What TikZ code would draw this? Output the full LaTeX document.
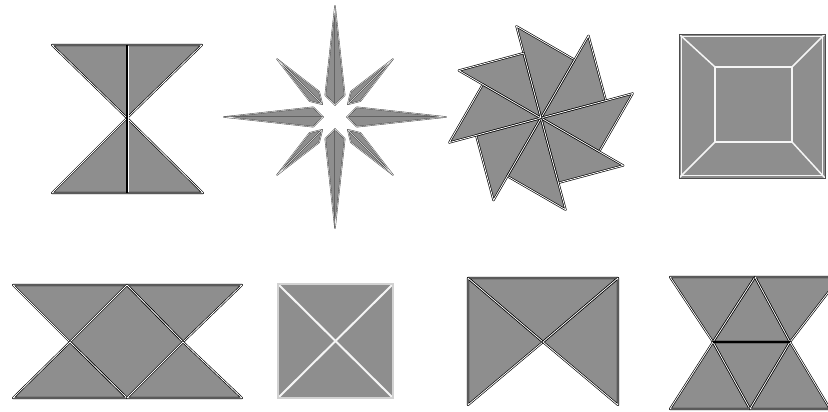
\documentclass[tikz,border=0pt]{standalone}
\usepackage{tikz}
\definecolor{tilegray}{RGB}{142,142,142}

\begin{document}
\begin{tikzpicture}[x=1pt, y=-1pt,
	tile/.style={fill=tilegray},
	edge/.style={draw=black, line width=0.65pt, double=white, double distance=0.8pt, line join=round},
	thinedge/.style={draw=black!75, line width=0.4pt, double=white!85!gray, double distance=0.5pt, line join=round},
	seam/.style={draw=white!92!gray, line width=1.5pt}]
	\useasboundingbox (0,0) rectangle (828,412);
	\fill[white] (0,0) rectangle (828,412);
	\fill[tile] (52,45) -- (202,45) -- (127,118) -- cycle;
	\fill[tile] (52,193) -- (203,193) -- (127,118) -- cycle;
	\draw[edge] (52,45) -- (202,45) -- (127,118) -- cycle;
	\draw[edge] (52,193) -- (203,193) -- (127,118) -- cycle;
	\draw[white, line width=0.8pt] (128.5,46) -- (128.5,192);
	\draw[black, line width=1.3pt] (127,45) -- (127,193);
	\begin{scope}[shift={(335,117)}]
		\foreach \a in {0,90,180,270} {
			\fill[tile] (\a:111) -- (\a+24:24) -- (\a:12) -- (\a-24:24) -- cycle;
			\draw[thinedge] (\a:111) -- (\a+24:24) -- (\a:12) -- cycle;
			\draw[thinedge] (\a:111) -- (\a-24:24) -- (\a:12) -- cycle;
		}
		\foreach \a in {45,135,225,315} {
			\fill[tile] (\a:82) -- (\a+13:30) -- (\a:18) -- (\a-13:30) -- cycle;
			\draw[thinedge] (\a:82) -- (\a+13:30) -- (\a:18) -- cycle;
			\draw[thinedge] (\a:82) -- (\a-13:30) -- (\a:18) -- cycle;
		}
	\end{scope}
	\begin{scope}[shift={(541,118)}]
		\foreach \k in {0,...,7}
			\fill[tile] (0,0) -- ({-105+45*\k}:95) -- ({-60+45*\k}:67.2) -- cycle;
		\foreach \k in {0,...,7}
			\draw[edge] (0,0) -- ({-105+45*\k}:95) -- ({-60+45*\k}:67.2) -- cycle;
	\end{scope}
	\fill[tile] (679,34) rectangle (825,178);
	\draw[seam] (715,67) rectangle (792,142);
	\draw[seam] (679,34) -- (715,67) (825,34) -- (792,67) (825,178) -- (792,142) (679,178) -- (715,142);
	\draw[seam, line width=1pt] (681.5,36.5) rectangle (822.5,175.5);
	\draw[black!70, line width=0.9pt] (679,34) rectangle (825,178);
	\fill[tile] (13,285) -- (242,285) -- (183,342) -- (242,398) -- (13,398) -- (70,342) -- cycle;
	\draw[edge] (13,285) -- (127,285) -- (70,342) -- cycle;
	\draw[edge] (127,285) -- (242,285) -- (183,342) -- cycle;
	\draw[edge] (127,285) -- (183,342) -- (127,398) -- (70,342) -- cycle;
	\draw[edge] (70,342) -- (127,398) -- (13,398) -- cycle;
	\draw[edge] (183,342) -- (242,398) -- (127,398) -- cycle;
	\fill[tile] (278,284) rectangle (393,398);
	\draw[seam, line width=2pt] (278,284) -- (393,398) (393,284) -- (278,398);
	\draw[gray!35, line width=1.2pt] (278,284) rectangle (393,398);
	\fill[tile] (468,278) -- (618,278) -- (618,405) -- (543,342) -- (468,405) -- cycle;
	\draw[edge] (468,278) -- (618,278) -- (543,342) -- cycle;
	\draw[edge] (468,278) -- (543,342) -- (468,405) -- cycle;
	\draw[edge] (618,278) -- (618,405) -- (543,342) -- cycle;
	\begin{scope}
		\clip (0,0) rectangle (828,412);
		\fill[tile] (670,277) -- (840,277) -- (790,342) -- (830,409) -- (670,409) -- (713,342) -- cycle;
		\draw[edge] (670,277) -- (755,277) -- (713,342) -- cycle;
		\draw[edge] (755,277) -- (790,342) -- (713,342) -- cycle;
		\draw[edge] (755,277) -- (840,277) -- (790,342) -- cycle;
		\draw[edge] (713,342) -- (790,342) -- (750,409) -- cycle;
		\draw[edge] (670,409) -- (713,342) -- (750,409) -- cycle;
		\draw[edge] (750,409) -- (790,342) -- (830,409) -- cycle;
		\draw[black, line width=1.6pt] (713,342) -- (790,342);
	\end{scope}
\end{tikzpicture}
\end{document}
